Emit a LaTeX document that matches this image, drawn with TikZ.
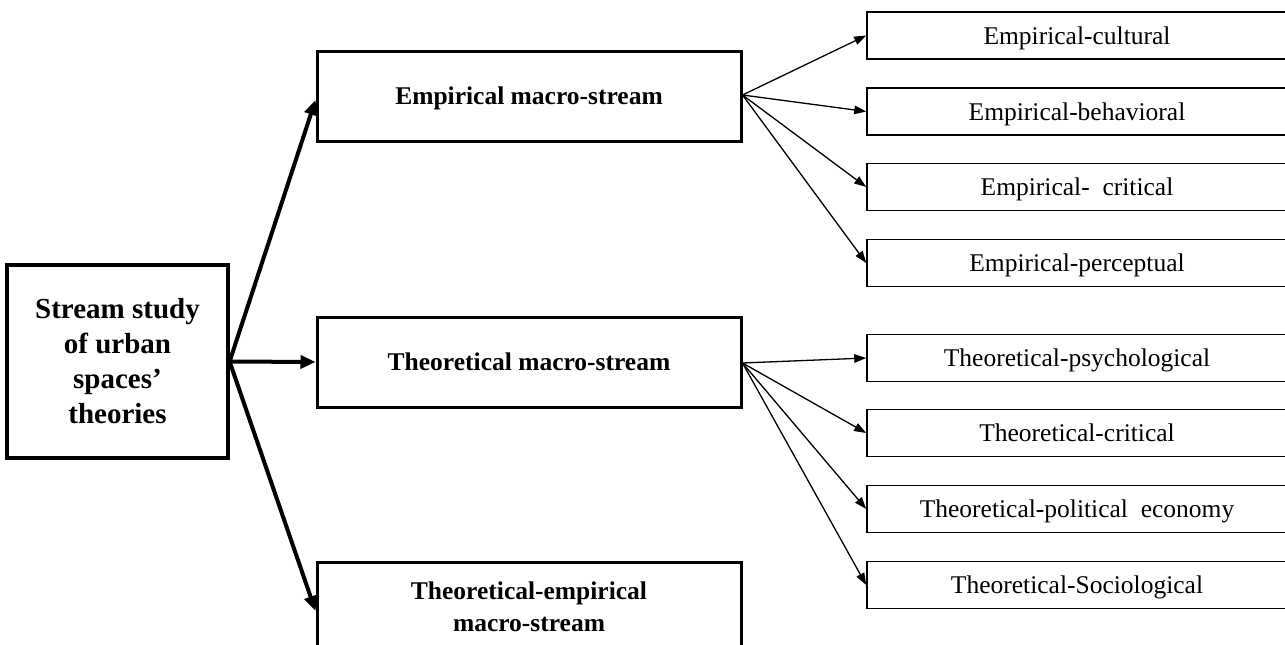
\documentclass[tikz,border=0pt]{standalone}
\usepackage{fontspec}
\setmainfont{Liberation Serif}
\usetikzlibrary{arrows.meta}
\begin{document}
\begin{tikzpicture}[x=1pt,y=-1pt,
  rootbox/.style={draw,line width=3.2pt,rectangle,inner sep=0pt,minimum width=221pt,minimum height=193pt,align=center,font=\fontsize{29}{35}\selectfont\bfseries},
  macrobox/.style={draw,line width=3pt,rectangle,inner sep=0pt,minimum width=424pt,minimum height=90pt,align=center,font=\fontsize{25.5}{32}\selectfont\bfseries},
  singleline/.style={text height=22pt,text depth=5pt},
  leafbox/.style={draw,line width=1.6pt,rectangle,inner sep=0pt,minimum width=420pt,minimum height=47pt,text height=22pt,text depth=5pt,font=\fontsize{25.5}{30}\selectfont},
  thickarrow/.style={line width=4pt,-{Triangle[length=15pt,width=13pt]}},
  thinarrow/.style={line width=1.3pt,-{Triangle[length=12pt,width=8.5pt]}}
]
\clip (0,0) rectangle (1285,645);
\fill[white] (0,0) rectangle (1285,645);

\node[rootbox] (root) at (117.5,361.5) {Stream study\\of urban\\spaces’\\theories};

\node[macrobox,singleline] (emp) at (529,96) {Empirical macro-stream};
\node[macrobox,singleline] (theo) at (529,362) {Theoretical macro-stream};
\node[macrobox] (te) at (529,607) {Theoretical-empirical\\macro-stream};

\node[leafbox] (e1) at (1077,35.5) {Empirical-cultural};
\node[leafbox] (e2) at (1077,111.5) {Empirical-behavioral};
\node[leafbox] (e3) at (1077,187) {Empirical-\ \ critical};
\node[leafbox] (e4) at (1077,263) {Empirical-perceptual};

\node[leafbox] (t1) at (1077,358) {Theoretical-psychological};
\node[leafbox] (t2) at (1077,433) {Theoretical-critical};
\node[leafbox] (t3) at (1077,509) {Theoretical-political\ \ economy};
\node[leafbox] (t4) at (1077,585) {Theoretical-Sociological};

\draw[thickarrow] (root.east) -- ([yshift=-4pt]emp.west);
\draw[thickarrow] (root.east) -- (theo.west);
\draw[thickarrow] (root.east) -- ([yshift=-4pt]te.west);

\foreach \t in {e1,e2,e3,e4} \draw[thinarrow] ([yshift=1pt]emp.east) -- (\t.west);
\foreach \t in {t1,t2,t3,t4} \draw[thinarrow] ([yshift=-1pt]theo.east) -- (\t.west);
\end{tikzpicture}
\end{document}
